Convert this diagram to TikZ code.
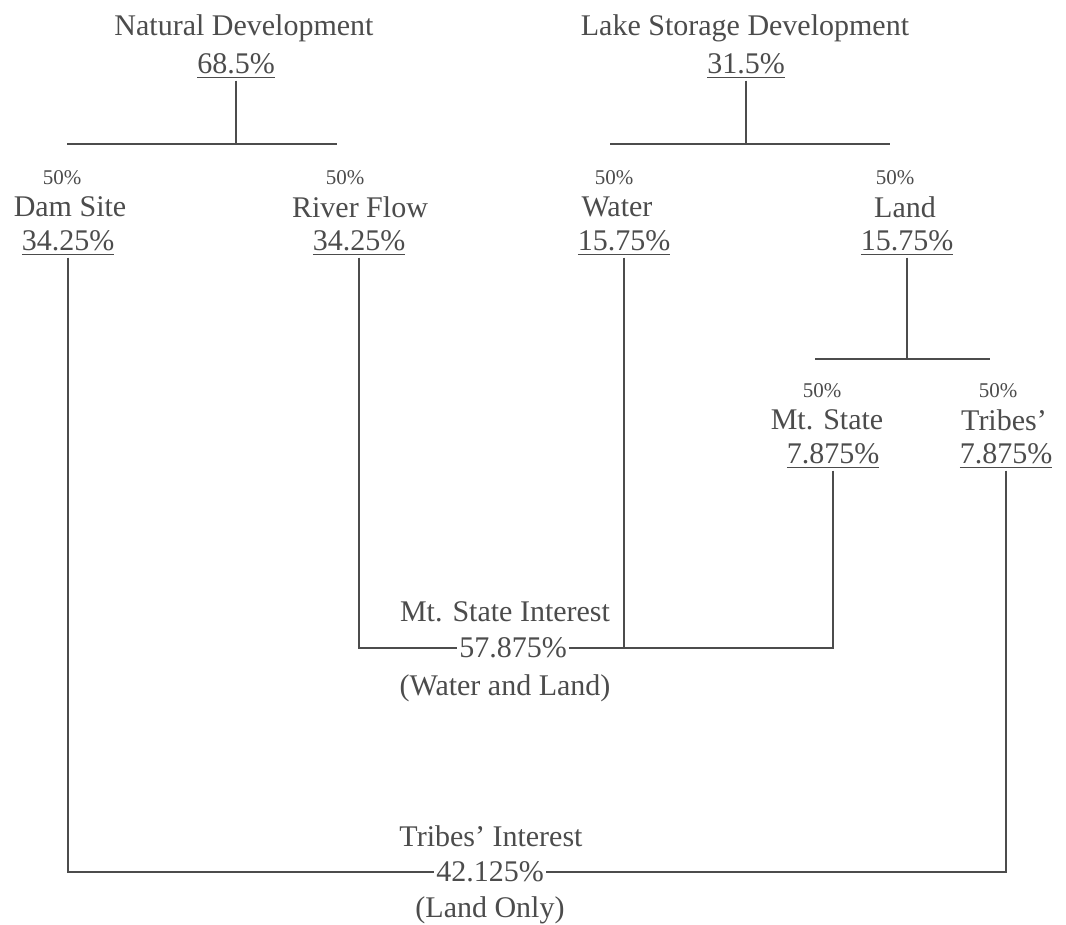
\documentclass[tikz,border=0pt]{standalone}
\usepackage{fontspec}
\setmainfont{Liberation Serif}
\usepackage{tikz}
\definecolor{ink}{gray}{0.3}

\begin{document}
\begin{tikzpicture}[x=0.5pt, y=-0.5pt,
    every node/.style={text=ink, inner sep=1pt, font=\fontsize{15}{18}\selectfont},
    half/.style={font=\fontsize{10.5}{12}\selectfont},
    line/.style={draw=ink, line width=1.1pt}]
    \useasboundingbox[fill=white] (0,0) rectangle (1066,925);
    % the two developments
    \node (nat) at (244,28) {Natural Development};
    \node (natp) at (236,66) {\underline{68.5\%}};
    \node (lake) at (745,28) {Lake Storage Development};
    \node (lakep) at (746,66) {\underline{31.5\%}};
    \coordinate (nbl) at (67,144);
    \coordinate (nbr) at (337,144);
    \coordinate (lbl) at (610,144);
    \coordinate (lbr) at (890,144);
    % second row
    \node[half] (dam50) at (62,178) {50\%};
    \node (dam) at (70,207) {Dam Site};
    \node (damp) at (68,243) {\underline{34.25\%}};
    \node[half] (riv50) at (345,178) {50\%};
    \node (riv) at (360,207) {River Flow};
    \node (rivp) at (359,243) {\underline{34.25\%}};
    \node[half] (wat50) at (614,178) {50\%};
    \node (wat) at (617,207) {Water};
    \node (watp) at (624,243) {\underline{15.75\%}};
    \node[half] (land50) at (895,178) {50\%};
    \node (land) at (905,207) {Land};
    \node (landp) at (907,243) {\underline{15.75\%}};
    % land split
    \coordinate (sbl) at (815,359);
    \coordinate (sbr) at (990,359);
    \node[half] (ms50) at (822,391) {50\%};
    \node (ms) at (827,420) {Mt. State};
    \node (msp) at (833,456) {\underline{7.875\%}};
    \node[half] (tr50) at (998,391) {50\%};
    \node (tr) at (1004,420) {Tribes'};
    \node (trp) at (1006,456) {\underline{7.875\%}};
    % totals
    \node (msi) at (505,612) {Mt. State Interest};
    \node (msip) at (513,648) {57.875\%};
    \node (msiw) at (505,688) {(Water and Land)};
    \node (ti) at (491,836) {Tribes' Interest};
    \node (tip) at (490,872) {42.125\%};
    \node (tiw) at (490,910) {(Land Only)};
    % connectors
    \draw[line] (nbl) -- (nbr);
    \draw[line] (natp.south) -- (natp.south |- nbl);
    \draw[line] (lbl) -- (lbr);
    \draw[line] (lakep.south) -- (lakep.south |- lbl);
    \draw[line] (sbl) -- (sbr);
    \draw[line] (landp.south) -- (landp.south |- sbl);
    \draw[line] (rivp.south) |- (msip.west);
    \draw[line] (msp.south) |- (msip.east);
    \draw[line] (watp.south) -- (watp.south |- msip.east);
    \draw[line] (damp.south) |- (tip.west);
    \draw[line] (trp.south) |- (tip.east);
\end{tikzpicture}
\end{document}
